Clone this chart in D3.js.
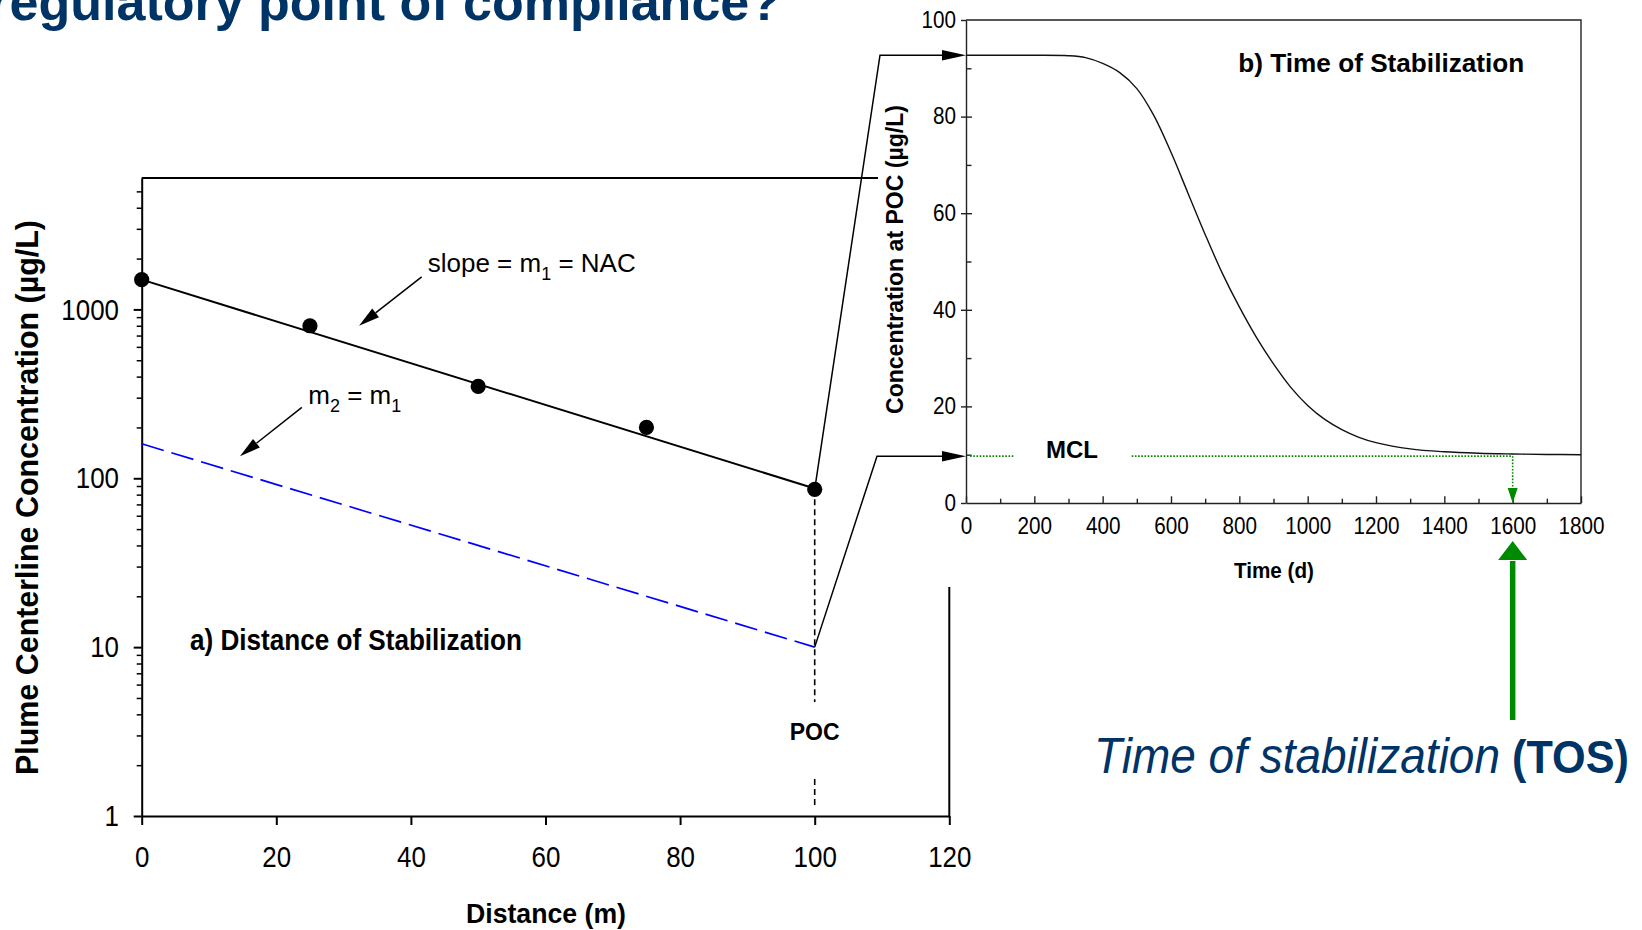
<!DOCTYPE html>
<html><head><meta charset="utf-8">
<script src="https://cdn.jsdelivr.net/npm/d3@7"></script>
<style>
html,body{margin:0;padding:0;background:#fff;}
svg{display:block;font-family:Arial,"Liberation Sans",Helvetica,sans-serif;}
text{white-space:pre;}
</style></head><body>
<svg id="c" width="1642" height="930"></svg>
<script>
// ---------------- DATA ----------------
// (a) Distance of stabilization
const distanceM = [0, 25, 50, 75, 100];
const plumeConc = [1500, 800, 350, 200, 86];
const fitDistance = [0, 100];
const fitConc = [1500, 87];
const m2Distance = [0, 100];
const m2Conc = [160, 10];
const pocDistance = 100;
const xTicksA = [0, 20, 40, 60, 80, 100, 120];
const yTicksA = [1, 10, 100, 1000];
const yMinorA = [2,3,4,5,6,7,8,9,20,30,40,50,60,70,80,90,200,300,400,500,600,700,800,900,2000,3000,4000,5000];

// (b) Time of stabilization
const timeDays = [0,100,200,300,350,400,450,500,550,600,650,700,750,800,850,900,950,1000,1050,1100,1150,1200,1300,1400,1500,1600,1700,1800];
const concPOC  = [92.7,92.7,92.7,92.6,92.2,91.0,89.1,85.8,80.2,72.6,64.1,55.6,47.6,40.6,34.3,28.8,24.0,20.2,17.3,15.2,13.6,12.5,11.2,10.6,10.3,10.15,10.05,10.0];
const mclValue = 9.7;
const mclGap = [140, 485];
const tosDay = 1600;
const xTicksB = [0,200,400,600,800,1000,1200,1400,1600,1800];
const xMinorB = [100,300,500,700,900,1100,1300,1500,1700];
const yTicksB = [0,20,40,60,80,100];
const yMinorB = [10,30,50,70,90];

// ---------------- DRAW ----------------
const svg = d3.select("#c");
const NAVY = "#003366", GREEN = "#008a00";

function arrowHead(x1,y1,x2,y2,len,w){
  const a = Math.atan2(y2-y1, x2-x1);
  const bx = x2-len*Math.cos(a), by = y2-len*Math.sin(a);
  const px = -Math.sin(a)*w/2, py = Math.cos(a)*w/2;
  return {path:`M${x2},${y2}L${bx+px},${by+py}L${bx-px},${by-py}Z`, bx, by};
}

// Title (cut off at top, as in the reference)
svg.append("text").attr("x",781).attr("y",19.5).attr("text-anchor","end")
  .attr("font-size",52).attr("font-weight","bold").attr("fill",NAVY)
  .text("regulatory point of compliance?");

// ===== Panel a =====
const xA = d3.scaleLinear().domain([0,120]).range([141.7,949.3]);
const yA = d3.scaleLog().domain([1,6000]).range([816,178]);

const gxA = svg.append("g").attr("transform",`translate(0,${yA(1)})`)
  .call(d3.axisBottom(xA).tickValues(xTicksA).tickFormat(d3.format("d")).tickSize(9).tickSizeOuter(0).tickPadding(21));
const gyA = svg.append("g").attr("transform",`translate(${xA(0)},0)`)
  .call(d3.axisLeft(yA).tickValues(yTicksA).tickFormat(d3.format("d")).tickSize(8).tickSizeOuter(0).tickPadding(18.2));
const gyAm = svg.append("g").attr("transform",`translate(${xA(0)},0)`)
  .call(d3.axisLeft(yA).tickValues(yMinorA).tickFormat("").tickSize(5).tickSizeOuter(0));
gyAm.select(".domain").remove();
[gxA,gyA,gyAm].forEach(g=>{
  g.selectAll("path,line").attr("stroke","#000").attr("stroke-width",2);
  g.selectAll("text").attr("font-size",30).attr("fill","#000")
   .attr("font-family","Arial, 'Liberation Sans', sans-serif").attr("transform","scale(0.865,1)");
});
gyAm.selectAll("line").attr("stroke-width",1.5);

// frame top & right
svg.append("line").attr("x1",xA(0)).attr("x2",xA(120)).attr("y1",yA(6000)).attr("y2",yA(6000))
  .attr("stroke","#000").attr("stroke-width",2);
svg.append("line").attr("x1",xA(120)).attr("x2",xA(120)).attr("y1",yA(6000)).attr("y2",yA(1))
  .attr("stroke","#000").attr("stroke-width",2);

// lines
const lineA = d3.line().x(d=>xA(d[0])).y(d=>yA(d[1]));
svg.append("path").attr("d",lineA(d3.zip(m2Distance,m2Conc))).attr("fill","none")
  .attr("stroke","#0000ff").attr("stroke-width",1.7).attr("stroke-dasharray","23,8");
svg.append("path").attr("d",lineA(d3.zip(fitDistance,fitConc))).attr("fill","none")
  .attr("stroke","#000").attr("stroke-width",2);
svg.selectAll("circle.pt").data(d3.zip(distanceM,plumeConc)).enter().append("circle")
  .attr("class","pt").attr("cx",d=>xA(d[0])).attr("cy",d=>yA(d[1])).attr("r",7.6).attr("fill","#000");

// POC vertical dashed line (gap around label)
const pocX = xA(pocDistance);
svg.append("line").attr("x1",pocX).attr("x2",pocX).attr("y1",yA(plumeConc[4])).attr("y2",702)
  .attr("stroke","#000").attr("stroke-width",1.6).attr("stroke-dasharray","6,4");
svg.append("line").attr("x1",pocX).attr("x2",pocX).attr("y1",779).attr("y2",809)
  .attr("stroke","#000").attr("stroke-width",1.6).attr("stroke-dasharray","6,4");
svg.append("text").attr("x",pocX).attr("y",740).attr("text-anchor","middle")
  .attr("font-size",23).attr("font-weight","bold").text("POC");

svg.append("text").attr("x",190).attr("y",650).attr("font-size",30).attr("font-weight","bold")
  .attr("textLength",332).attr("lengthAdjust","spacingAndGlyphs").text("a) Distance of Stabilization");

// annotations
function annArrow(p0,p1){
  const x1=xA(p0[0]), y1=yA(p0[1]), x2=xA(p1[0]), y2=yA(p1[1]);
  const h = arrowHead(x1,y1,x2,y2,21,11);
  svg.append("line").attr("x1",x1).attr("y1",y1).attr("x2",h.bx).attr("y2",h.by).attr("stroke","#000").attr("stroke-width",1.5);
  svg.append("path").attr("d",h.path).attr("fill","#000");
}
annArrow([41.6,1560],[32.3,800]);
annArrow([23.8,263],[14.6,135]);

const t1 = svg.append("text").attr("x",xA(42.5)).attr("y",yA(1667)).attr("font-size",26);
t1.append("tspan").text("slope = m");
t1.append("tspan").attr("font-size",18).attr("dy",7.6).text("1");
t1.append("tspan").attr("dy",-7.6).text(" = NAC");
const t2 = svg.append("text").attr("x",xA(24.75)).attr("y",yA(274)).attr("font-size",26);
t2.append("tspan").text("m");
t2.append("tspan").attr("font-size",18).attr("dy",7.6).text("2");
t2.append("tspan").attr("dy",-7.6).text(" = m");
t2.append("tspan").attr("font-size",18).attr("dy",7.6).text("1");

// axis titles
svg.append("text").attr("transform","translate(38.3,497.5) rotate(-90)").attr("text-anchor","middle")
  .attr("font-size",32).attr("font-weight","bold").attr("textLength",555).attr("lengthAdjust","spacingAndGlyphs")
  .text("Plume Centerline Concentration (µg/L)");
svg.append("text").attr("x",546).attr("y",923).attr("text-anchor","middle")
  .attr("font-size",28).attr("font-weight","bold").attr("textLength",160).attr("lengthAdjust","spacingAndGlyphs")
  .text("Distance (m)");

// ===== Panel b (pasted over a white box) =====
svg.append("rect").attr("x",878).attr("y",0).attr("width",1642-878).attr("height",587).attr("fill","#fff");

const xB = d3.scaleLinear().domain([0,1800]).range([966,1581]);
const yB = d3.scaleLinear().domain([0,100]).range([503,20]);
const AX = "#222";

const gxB = svg.append("g").attr("transform",`translate(0,${yB(0)})`)
  .call(d3.axisBottom(xB).tickValues(xTicksB).tickFormat(d3.format("d")).tickSize(-6.7).tickSizeOuter(0).tickPadding(15));
const gxBm = svg.append("g").attr("transform",`translate(0,${yB(0)})`)
  .call(d3.axisBottom(xB).tickValues(xMinorB).tickFormat("").tickSize(-4.3).tickSizeOuter(0));
const gyB = svg.append("g").attr("transform",`translate(${xB(0)},0)`)
  .call(d3.axisLeft(yB).tickValues(yTicksB).tickFormat(d3.format("d")).tickSize(5).tickSizeOuter(0).tickPadding(6.1));
const gyBi = svg.append("g").attr("transform",`translate(${xB(0)},0)`)
  .call(d3.axisLeft(yB).tickValues(yTicksB.slice(1,5)).tickFormat("").tickSize(-6).tickSizeOuter(0));
const gyBm = svg.append("g").attr("transform",`translate(${xB(0)},0)`)
  .call(d3.axisLeft(yB).tickValues(yMinorB).tickFormat("").tickSize(-5.5).tickSizeOuter(0));
[gxBm,gyBi,gyBm].forEach(g=>g.select(".domain").remove());
[gxB,gxBm,gyB,gyBi,gyBm].forEach(g=>{
  g.selectAll("path,line").attr("stroke",AX).attr("stroke-width",1.4);
  g.selectAll("text").attr("font-size",23).attr("fill","#000")
   .attr("font-family","Arial, 'Liberation Sans', sans-serif").attr("transform","scale(0.9,1)");
});
svg.append("path").attr("d",`M${xB(0)},${yB(100)}H${xB(1800)}V${yB(0)}`)
  .attr("fill","none").attr("stroke",AX).attr("stroke-width",1.4);

// MCL dotted line and TOS drop line
svg.append("line").attr("x1",xB(12)).attr("x2",xB(mclGap[0])).attr("y1",yB(mclValue)).attr("y2",yB(mclValue))
  .attr("stroke",GREEN).attr("stroke-width",1.6).attr("stroke-dasharray","1.6,1.6");
svg.append("line").attr("x1",xB(mclGap[1])).attr("x2",xB(tosDay)).attr("y1",yB(mclValue)).attr("y2",yB(mclValue))
  .attr("stroke",GREEN).attr("stroke-width",1.6).attr("stroke-dasharray","1.6,1.6");
{
  const h = arrowHead(xB(tosDay),yB(mclValue),xB(tosDay),yB(0),15,10);
  svg.append("line").attr("x1",xB(tosDay)).attr("x2",xB(tosDay)).attr("y1",yB(mclValue)).attr("y2",h.by)
    .attr("stroke",GREEN).attr("stroke-width",1.6).attr("stroke-dasharray","1.6,1.6");
  svg.append("path").attr("d",h.path).attr("fill",GREEN);
}

// curve
svg.append("path").attr("d",d3.line().curve(d3.curveCatmullRom.alpha(0.5)).x(d=>xB(d[0])).y(d=>yB(d[1]))(d3.zip(timeDays,concPOC)))
  .attr("fill","none").attr("stroke","#111").attr("stroke-width",1.4);

svg.append("text").attr("x",1072).attr("y",458.3).attr("text-anchor","middle")
  .attr("font-size",24).attr("font-weight","bold").text("MCL");
svg.append("text").attr("x",1238.3).attr("y",72).attr("font-size",25.6).attr("font-weight","bold")
  .attr("textLength",286).attr("lengthAdjust","spacingAndGlyphs").text("b) Time of Stabilization");
svg.append("text").attr("x",1274).attr("y",578).attr("text-anchor","middle")
  .attr("font-size",21.5).attr("font-weight","bold").attr("textLength",80).attr("lengthAdjust","spacingAndGlyphs").text("Time (d)");
svg.append("text").attr("transform","translate(902.5,259.5) rotate(-90)").attr("text-anchor","middle")
  .attr("font-size",23).attr("font-weight","bold").attr("textLength",309).attr("lengthAdjust","spacingAndGlyphs")
  .text("Concentration at POC (µg/L)");

// ===== connectors from panel a to panel b =====
function connector(x0,y0,xc,yc,xe){
  const h = arrowHead(xc,yc,xe,yc,24,10.5);
  svg.append("path").attr("d",`M${x0},${y0}L${xc},${yc}L${h.bx},${yc}`).attr("fill","none")
    .attr("stroke","#000").attr("stroke-width",1.5);
  svg.append("path").attr("d",h.path).attr("fill","#000");
}
connector(xA(pocDistance), yA(plumeConc[4]), 880, yB(concPOC[0]), xB(0));
connector(xA(pocDistance), yA(m2Conc[1]), 877, yB(mclValue), xB(0));

// ===== big green TOS arrow and caption =====
{
  const ax = xB(tosDay);
  const h = arrowHead(ax,720,ax,541,19,29);
  svg.append("line").attr("x1",ax).attr("x2",ax).attr("y1",720).attr("y2",h.by+1)
    .attr("stroke",GREEN).attr("stroke-width",5.5);
  svg.append("path").attr("d",h.path).attr("fill",GREEN);
}
{
  const cap = svg.append("text").attr("transform","translate(1094,773) scale(0.92,1)")
    .attr("fill",NAVY).attr("font-size",50);
  cap.append("tspan").attr("font-style","italic").text("Time of stabilization");
  cap.append("tspan").attr("font-weight","bold").attr("font-size",47).text(" (TOS)");
}
</script>
</body></html>
